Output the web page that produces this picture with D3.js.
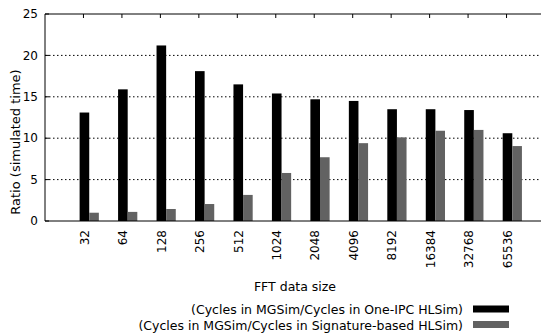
<!DOCTYPE html>
<html>
<head>
<meta charset="utf-8">
<script src="https://cdn.jsdelivr.net/npm/d3@7"></script>
<style>
  body { margin: 0; background: #fff; }
  svg { display: block; font-family: "DejaVu Sans", sans-serif; }
  .grid line { stroke: #000; stroke-width: 1; stroke-dasharray: 1.5,2.5; }
</style>
</head>
<body>
<svg id="chart" width="541" height="334"></svg>
<script>
// data
var sizes = ['32','64','128','256','512','1024','2048','4096','8192','16384','32768','65536'];
var oneIpc = [13.1, 15.9, 21.2, 18.1, 16.5, 15.4, 14.7, 14.5, 13.5, 13.5, 13.4, 10.6];
var sigBased = [1.0, 1.1, 1.45, 2.05, 3.15, 5.8, 7.7, 9.4, 10.1, 10.9, 11.0, 9.05];
var yTicks = [0, 5, 10, 15, 20, 25];
var seriesNames = [
    '(Cycles in MGSim/Cycles in One-IPC HLSim)',
    '(Cycles in MGSim/Cycles in Signature-based HLSim)'
];
var seriesColors = ['#000000', '#626262'];

var svg = d3.select('#chart');

// plot box (window.top is taken, so use a small object)
var plot = {left: 45, right: 545, top: 14, bottom: 221};

// gnuplot histogram style: x range -1 .. n
var x = d3.scaleLinear().domain([-1, sizes.length]).range([plot.left, plot.right]);
var y = d3.scaleLinear().domain([0, 25]).range([plot.bottom, plot.top]);

// dotted grid
svg.append('g').attr('class', 'grid')
    .selectAll('line')
    .data(yTicks.filter(function(d){ return d > 0 && d < 25; }))
    .enter().append('line')
    .attr('x1', plot.left).attr('x2', plot.right)
    .attr('y1', function(d){ return y(d); })
    .attr('y2', function(d){ return y(d); });

// bars
var series = [oneIpc, sigBased];
var offsets = [[-0.1, 0.15], [0.15, 0.4]];
series.forEach(function(vals, s){
    svg.append('g')
        .selectAll('rect')
        .data(vals)
        .enter().append('rect')
        .attr('x', function(d, i){ return x(i + offsets[s][0]); })
        .attr('width', function(d, i){ return x(i + offsets[s][1]) - x(i + offsets[s][0]); })
        .attr('y', function(d){ return y(d); })
        .attr('height', function(d){ return y(0) - y(d); })
        .attr('fill', seriesColors[s]);
});

// border (right side falls outside the window)
svg.append('path')
    .attr('d', 'M' + plot.right + ',' + plot.top + 'H' + plot.left + 'V' + plot.bottom + 'H' + plot.right)
    .attr('fill', 'none').attr('stroke', '#000').attr('stroke-width', 1);

// y axis ticks and labels
var yAxis = svg.append('g');
yTicks.forEach(function(t){
    yAxis.append('line')
        .attr('x1', plot.left).attr('x2', plot.left + 4)
        .attr('y1', y(t)).attr('y2', y(t))
        .attr('stroke', '#000');
    yAxis.append('text')
        .attr('x', plot.left - 7).attr('y', y(t))
        .attr('dy', '0.35em')
        .attr('text-anchor', 'end')
        .attr('font-size', 12)
        .text(t);
});

// x ticks (top mirrored) and rotated labels
var xAxis = svg.append('g');
sizes.forEach(function(s, i){
    xAxis.append('line')
        .attr('x1', x(i)).attr('x2', x(i))
        .attr('y1', plot.top).attr('y2', plot.top + 4)
        .attr('stroke', '#000');
    xAxis.append('line')
        .attr('x1', x(i)).attr('x2', x(i))
        .attr('y1', plot.bottom).attr('y2', plot.bottom - 4)
        .attr('stroke', '#000');
    xAxis.append('text')
        .attr('transform', 'translate(' + (x(i) + 1) + ',' + (plot.bottom + 9) + ') rotate(-90)')
        .attr('text-anchor', 'end')
        .attr('dy', '0.35em')
        .attr('font-size', 12)
        .text(s);
});

// axis titles
svg.append('text')
    .attr('transform', 'translate(15,142) rotate(-90)')
    .attr('text-anchor', 'middle')
    .attr('dy', '0.35em')
    .attr('font-size', 13)
    .text('Ratio (simulated time)');

svg.append('text')
    .attr('x', (plot.left + plot.right) / 2).attr('y', 287)
    .attr('text-anchor', 'middle')
    .attr('dy', '0.35em')
    .attr('font-size', 12.5)
    .text('FFT data size');

// legend
var legend = svg.append('g');
seriesNames.forEach(function(name, i){
    var ly = 309 + i * 15.5;
    legend.append('text')
        .attr('x', 463).attr('y', ly + 1)
        .attr('dy', '0.35em')
        .attr('text-anchor', 'end')
        .attr('font-size', 12.5)
        .text(name);
    legend.append('rect')
        .attr('x', 473).attr('y', ly - 3.5)
        .attr('width', 36).attr('height', 7)
        .attr('fill', seriesColors[i]);
});
</script>
</body>
</html>
